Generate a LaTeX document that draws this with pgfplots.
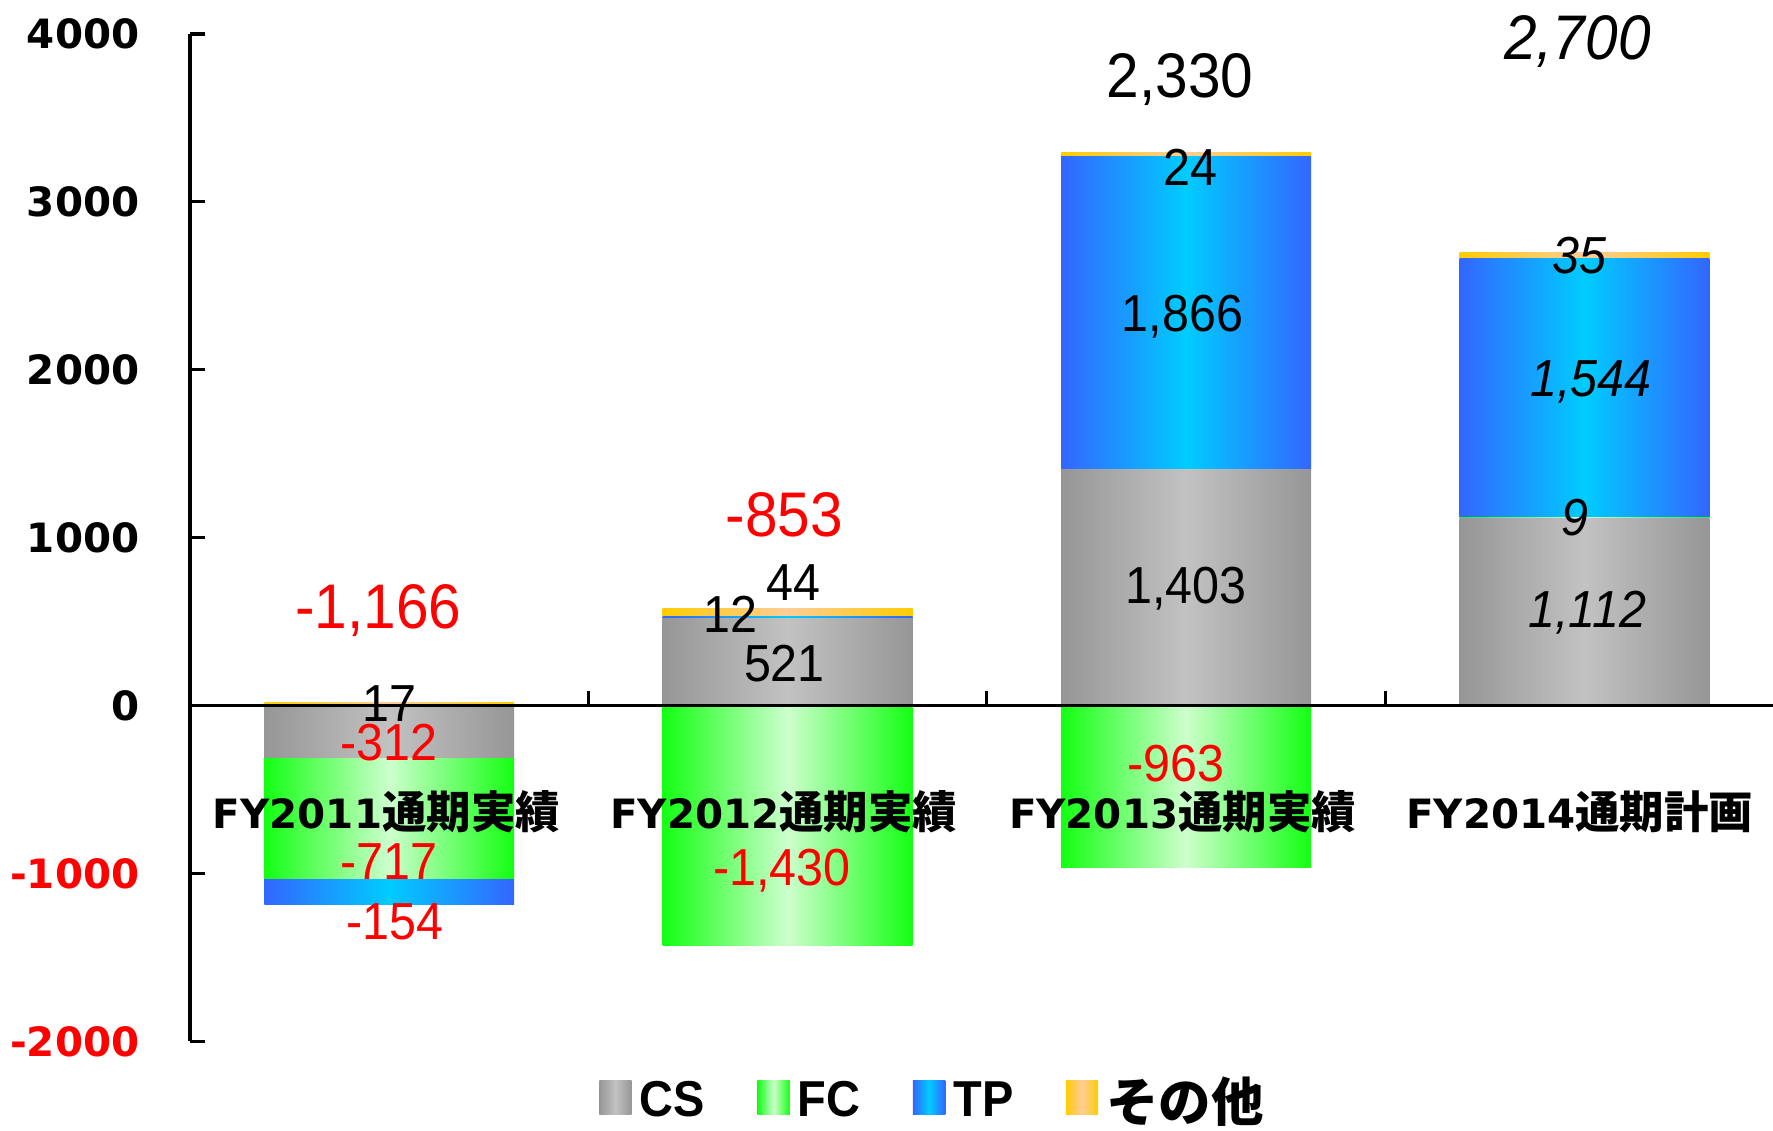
\documentclass[border=0pt]{standalone}
\usepackage{pgfplots}
\pgfplotsset{compat=1.18}
\usepackage{fontspec}
\setmainfont{Liberation Sans}
\newfontfamily\narrow{Liberation Sans}[FakeStretch=0.93]
\newfontfamily\dvs{DejaVu Sans}
\newfontfamily\cjk{Noto Sans CJK JP}

\definecolor{csE}{RGB}{150,150,150}
\definecolor{csM}{RGB}{194,194,194}
\definecolor{fcE}{RGB}{20,255,20}
\definecolor{fcM}{RGB}{205,255,205}
\definecolor{tpE}{RGB}{51,102,255}
\definecolor{tpM}{RGB}{0,204,255}
\definecolor{otE}{RGB}{255,204,0}
\definecolor{otM}{RGB}{255,204,153}

\pgfplotsset{
  base/.style={scale only axis, width=392pt, height=249.48pt,
    xmin=-0.5, xmax=3.473, ymin=-2000, ymax=4000, enlargelimits=false,
    anchor=south west, at={(0pt,0pt)}},
  bars/.style={base, hide axis, bar width=0.627},
  lgd/.style={legend image code/.code={\path[##1] (0pt,-3pt) rectangle (8pt,5.4pt);}},
  cs/.style={draw=none, left color=csE, right color=csE, middle color=csM, lgd},
  fc/.style={draw=none, left color=fcE, right color=fcE, middle color=fcM, lgd},
  tp/.style={draw=none, left color=tpE, right color=tpE, middle color=tpM, lgd},
  ot/.style={draw=none, left color=otE, right color=otE, middle color=otM, lgd},
}
\newcommand{\sml}{\narrow\fontsize{12.9}{14}\selectfont}
\newcommand{\bgl}{\narrow\fontsize{15.6}{17}\selectfont}
\newcommand{\cat}[2]{{\dvs\bfseries\fontsize{10}{12}\selectfont #1}{\cjk\bfseries\fontsize{11}{12}\selectfont #2}}

\begin{document}
\begin{tikzpicture}
\useasboundingbox (-47.04pt,-22.12pt) rectangle (392pt,257.88pt);
% single bars from zero
\begin{axis}[bars, ybar, bar shift=0pt]
\addplot[fc] coordinates {(1,-1430)};
\addplot[fc] coordinates {(2,-963)};
\addplot[ot] coordinates {(0,17)};
\end{axis}
% FY2011 negative stack
\begin{axis}[bars, ybar stacked]
\addplot[cs] coordinates {(0,-312)};
\addplot[fc] coordinates {(0,-717)};
\addplot[tp] coordinates {(0,-154)};
\end{axis}
% FY2012 positive stack
\begin{axis}[bars, ybar stacked]
\addplot[cs] coordinates {(1,521)};
\addplot[tp] coordinates {(1,12)};
\addplot[ot] coordinates {(1,44)};
\end{axis}
% FY2013 positive stack
\begin{axis}[bars, ybar stacked]
\addplot[cs] coordinates {(2,1403)};
\addplot[tp] coordinates {(2,1866)};
\addplot[ot] coordinates {(2,24)};
\end{axis}
% FY2014 positive stack + legend
\begin{axis}[bars, ybar stacked,
  legend columns=4, legend cell align=left,
  legend style={at={(axis description cs:0.471,-0.0605)}, anchor=center,
    draw=none, fill=none, font=\narrow\bfseries\fontsize{12.5}{14}\selectfont,
    /tikz/every even column/.append style={column sep=11pt}},
]
\addplot[cs] coordinates {(3,1112)};
\addlegendentry{CS}
\addplot[fc] coordinates {(3,9)};
\addlegendentry{FC}
\addplot[tp] coordinates {(3,1544)};
\addlegendentry{TP}
\addplot[ot] coordinates {(3,35)};
\addlegendentry{\cjk\bfseries\fontsize{13}{14}\selectfont その他}
\end{axis}
% axes and labels on top
\begin{axis}[base, clip=false,
  axis x line=middle, axis y line=left,
  axis line style={-, line width=0.8pt, black},
  xtick={0.5,1.5,2.5}, xticklabels={,,},
  ytick={-2000,-1000,0,1000,2000,3000,4000},
  yticklabels={{\color{red}-2000},{\color{red}-1000},0,1000,2000,3000,4000},
  yticklabel style={font=\dvs\bfseries\fontsize{10}{12}\selectfont, xshift=-9pt},
  tick align=inside, major tick length=3.7pt,
  tick style={line width=0.8pt, black},
]
% category labels
\node at (axis cs:-0.007,-633) {\cat{FY2011}{通期実績}};
\node at (axis cs:0.990,-633) {\cat{FY2012}{通期実績}};
\node at (axis cs:1.991,-633) {\cat{FY2013}{通期実績}};
\node at (axis cs:2.988,-633) {\cat{FY2014}{通期計画}};
% FY2011 labels
\node[red, inner sep=0pt] at (axis cs:-0.027,566) {\bgl -1,166};
\node[inner sep=0pt] at (axis cs:0.0,13) {\sml 17};
\node[red, inner sep=0pt] at (axis cs:0.0,-222) {\sml -312};
\node[red, inner sep=0pt] at (axis cs:0.0,-929) {\sml -717};
\node[red, inner sep=0pt] at (axis cs:0.014,-1286) {\sml -154};
% FY2012 labels
\node[red, inner sep=0pt] at (axis cs:0.992,1138) {\bgl -853};
\node[inner sep=0pt] at (axis cs:1.015,734) {\sml 44};
\node[inner sep=0pt] at (axis cs:0.856,545) {\sml 12};
\node[inner sep=0pt] at (axis cs:0.992,249) {\sml 521};
\node[red, inner sep=0pt] at (axis cs:0.986,-983) {\sml -1,430};
% FY2013 labels
\node[inner sep=0pt] at (axis cs:1.985,3731) {\bgl 2,330};
\node[inner sep=0pt] at (axis cs:2.011,3205) {\sml 24};
\node[inner sep=0pt] at (axis cs:1.991,2316) {\sml 1,866};
\node[inner sep=0pt] at (axis cs:2.0,694) {\sml 1,403};
\node[red, inner sep=0pt] at (axis cs:1.974,-343) {\sml -963};
% FY2014 labels (plan, italic)
\node[inner sep=0pt] at (axis cs:2.982,3953) {\bgl\itshape 2,700};
\node[inner sep=0pt] at (axis cs:2.988,2680) {\sml\itshape 35};
\node[inner sep=0pt] at (axis cs:3.016,1926) {\sml\itshape 1,544};
\node[inner sep=0pt] at (axis cs:2.976,1118) {\sml\itshape 9};
\node[inner sep=0pt] at (axis cs:3.007,552) {\sml\itshape 1,112};
\end{axis}
\end{tikzpicture}
\end{document}
